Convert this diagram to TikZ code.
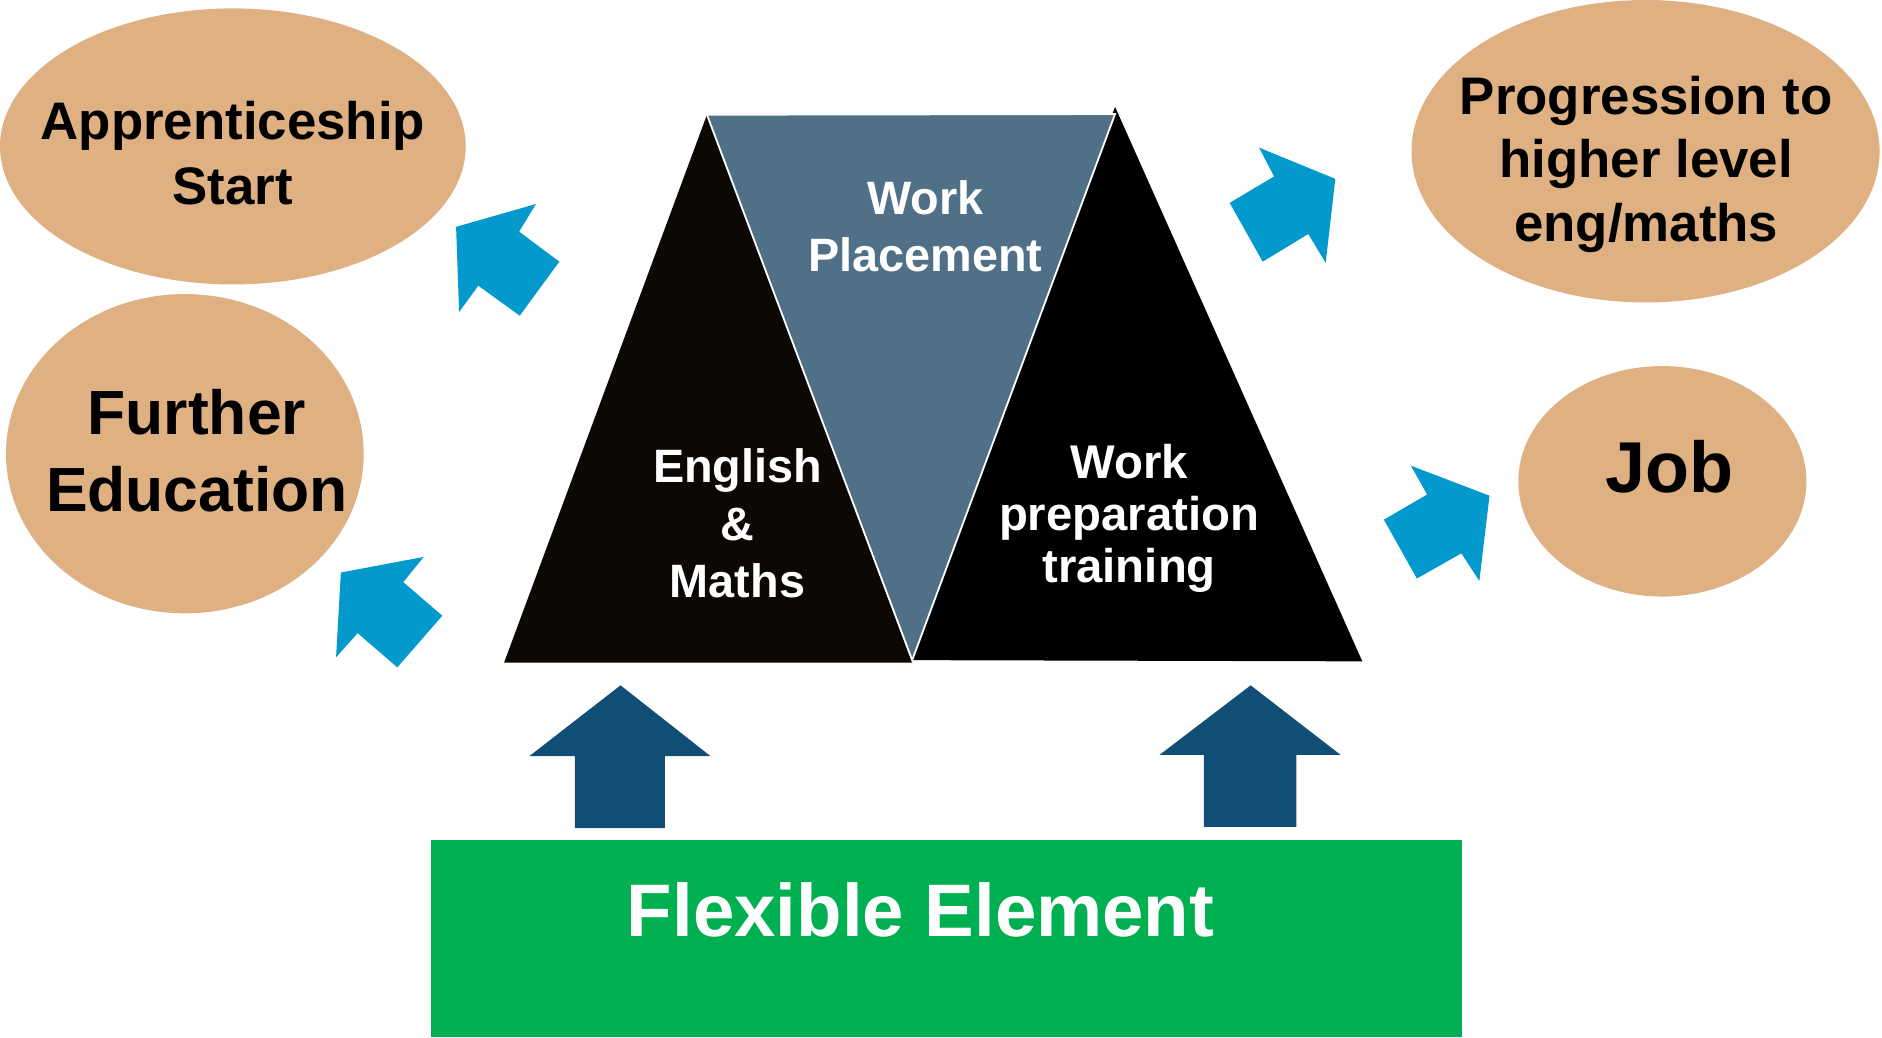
\documentclass[tikz,border=0pt]{standalone}
\usepackage{fontspec}
\setmainfont{Liberation Sans}
\usetikzlibrary{shapes.geometric}
\definecolor{tan}{RGB}{222,176,130}
\definecolor{skyarrow}{RGB}{3,153,204}
\definecolor{navyarrow}{RGB}{16,78,117}
\definecolor{slate}{RGB}{79,112,135}
\definecolor{nearblack}{RGB}{12,8,4}
\definecolor{flexgreen}{RGB}{0,176,80}
\begin{document}
\begin{tikzpicture}[x=1pt,y=-1pt,
  bubble/.style={ellipse,fill=tan,inner sep=0pt},
  darktxt/.style={align=center,text=black,inner sep=0pt},
  lighttxt/.style={align=center,text=white,inner sep=0pt},
  skyblock/.style={fill=skyarrow},
  navyblock/.style={fill=navyarrow}]
\useasboundingbox (0,0) rectangle (1568,864);
\node[bubble,minimum width=388,minimum height=230] (appr) at (194,122) {};
\node[bubble,minimum width=298,minimum height=266] (fe) at (154,378) {};
\node[bubble,minimum width=390,minimum height=252] (prog) at (1371,126) {};
\node[bubble,minimum width=240,minimum height=192] (job) at (1385,401) {};
\node[darktxt,font={\bfseries\fontsize{44}{53.6}\selectfont}] (apprtext) at (194,127.5) {Apprenticeship\\Start};
\node[darktxt,font={\bfseries\fontsize{52}{64}\selectfont}] (fetext) at (164,375.5) {Further\\Education};
\node[darktxt,font={\bfseries\fontsize{44}{53}\selectfont}] (progtext) at (1371.5,137) {Progression to\\higher level\\eng/maths};
\node[darktxt,font={\bfseries\fontsize{60}{72}\selectfont}] (jobtext) at (1391,388.5) {Job};
\fill[nearblack] (589,95.6) coordinate (emtop) -- (420,552) -- (760,552) -- cycle;
\fill[black] (929,89) coordinate (wptop) -- (760,550) -- (1135,551) -- cycle;
\filldraw[fill=slate,draw=white,line width=1.5pt,line join=miter] (589,95.6) -- (929,95) -- (760,550) -- cycle;
\node[lighttxt,font={\bfseries\fontsize{39}{47.5}\selectfont}] (placetext) at (770.8,188.3) {Work\\Placement};
\node[lighttxt,font={\bfseries\fontsize{39}{47.7}\selectfont}] (emtext) at (614.5,436) {English\\\&\\Maths};
\node[lighttxt,font={\bfseries\fontsize{39.4}{43.4}\selectfont}] (wptext) at (940.7,432) {Work\\preparation\\training};
\fill[skyblock] (380,189) -- (446.5,170) -- (432.5,193) -- (466,218) -- (433,263) -- (398.5,238) -- (382.5,260) -- cycle;
\fill[skyblock] (284,477) -- (353,464) -- (336,485) -- (368.5,513) -- (331,556) -- (298,527.5) -- (280,547.6) -- cycle;
\fill[skyblock] (1049,123) -- (1112.5,149) -- (1104.5,219) -- (1090,195) -- (1052,218) -- (1024.5,169) -- (1061.5,147) -- cycle;
\fill[skyblock] (1175.5,388) -- (1241,413) -- (1232.5,484) -- (1217.5,461) -- (1180.5,482) -- (1153,433) -- (1189,412) -- cycle;
\fill[navyblock] (517,571) -- (592,630) -- (554,630) -- (554,690) -- (479,690) -- (479,630) -- (441,630) -- cycle;
\fill[navyblock] (1042,571) -- (1117,629) -- (1080,629) -- (1080,689) -- (1003,689) -- (1003,629) -- (966,629) -- cycle;
\node[fill=flexgreen,minimum width=859,minimum height=164,inner sep=0pt] (flex) at (788.5,782) {};
\node[lighttxt,font={\bfseries\fontsize{62}{74}\selectfont}] (flextext) at (767,758.3) {Flexible Element};
\end{tikzpicture}
\end{document}
